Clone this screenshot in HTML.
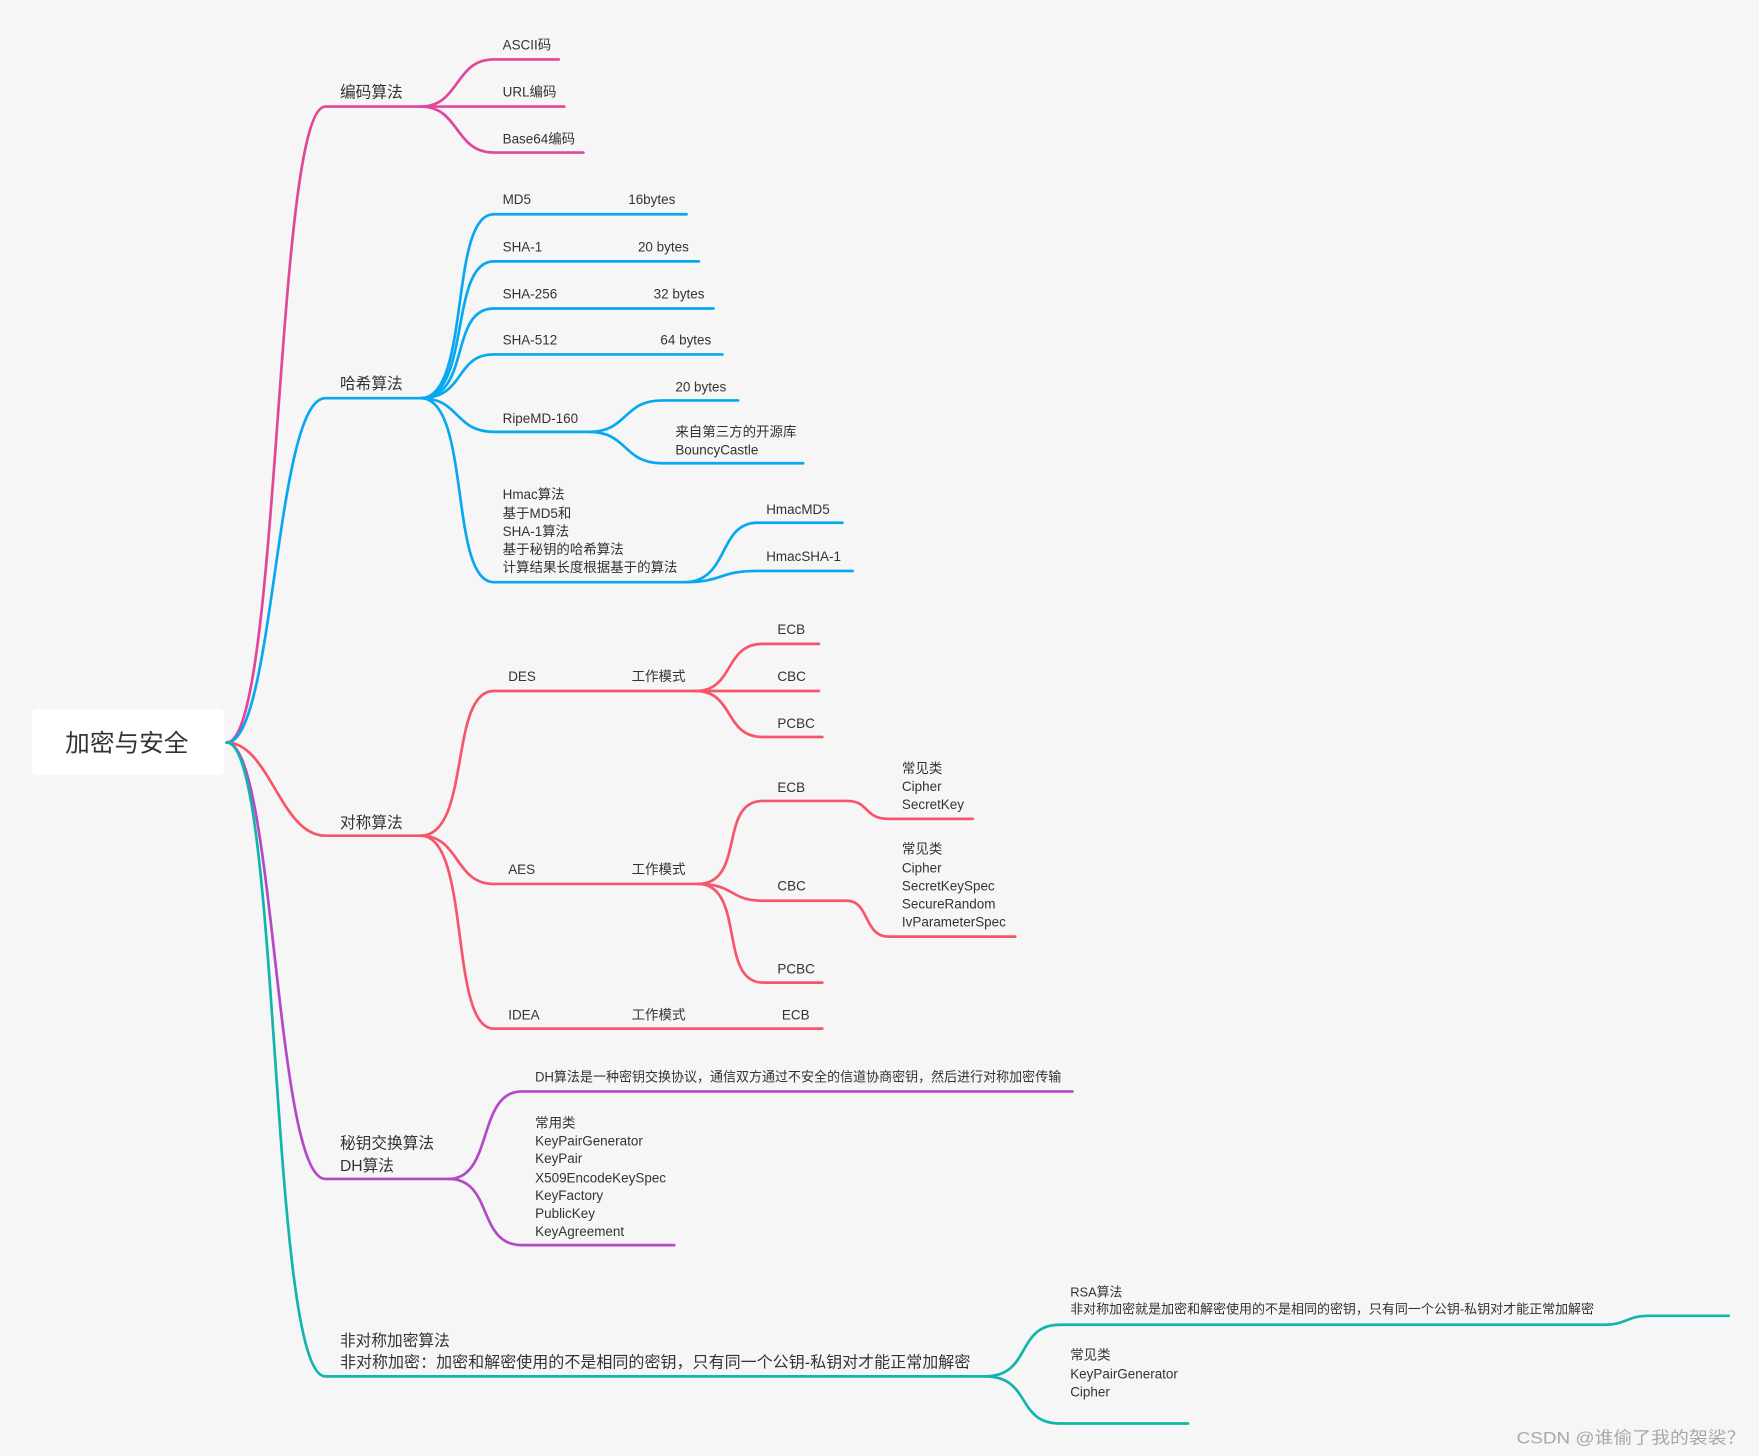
<!DOCTYPE html>
<html><head><meta charset="utf-8"><style>
html,body{margin:0;padding:0;background:#f6f6f6;}
svg{display:block}
text{font-family:"Liberation Sans","Noto Sans CJK SC",sans-serif;fill:#333;}
.l1{font-size:14px}
.l2{font-size:12px}
.s{font-size:11.5px}
path{fill:none;stroke-width:2.4;stroke-linecap:round}
.pk{stroke:#e0479b}.bl{stroke:#06a9f0}.rd{stroke:#f6556a}.pu{stroke:#b548c9}.tl{stroke:#12b5a9}
</style></head><body>
<svg width="1759" height="1456" viewBox="0 0 1568 1298" xmlns="http://www.w3.org/2000/svg">
<rect x="0" y="0" width="1568" height="1298" fill="#f6f6f6"/>
<rect x="28" y="632" width="172" height="59" rx="5" fill="#fff"/>
<text x="113" y="670" font-size="22" text-anchor="middle">加密与安全</text>

<path class="pk" d="M202,662 C250,662 245,95 290,95 L375,95"/>
<path class="bl" d="M202,662 C245,662 245,355 290,355 L375,355"/>
<path class="rd" d="M202,662 C240,662 250,745 290,745 L375,745"/>
<path class="pu" d="M202,662 C245,662 245,1051 290,1051 L400,1051"/>
<path class="tl" d="M202,662 C250,662 240,1227 290,1227 L878,1227"/>
<text class="l1" x="303" y="87">编码算法</text>
<text class="l1" x="303" y="347">哈希算法</text>
<text class="l1" x="303" y="738">对称算法</text>
<text class="l1" x="303" y="1024">秘钥交换算法</text>
<text class="l1" x="303" y="1044">DH算法</text>
<text class="l1" x="303" y="1200">非对称加密算法</text>
<text class="l1" x="303" y="1219" textLength="562" lengthAdjust="spacingAndGlyphs">非对称加密：加密和解密使用的不是相同的密钥，只有同一个公钥-私钥对才能正常加解密</text>

<path class="pk" d="M375,95 C410,95 405,53 440,53 L498,53"/>
<path class="pk" d="M375,95 L503,95"/>
<path class="pk" d="M375,95 C410,95 405,136 440,136 L520,136"/>
<text class="l2" x="448" y="44">ASCII码</text>
<text class="l2" x="448" y="86">URL编码</text>
<text class="l2" x="448" y="128">Base64编码</text>

<path class="bl" d="M375,355 C420,355 400,191 440,191 L612,191"/>
<path class="bl" d="M375,355 C420,355 400,233 440,233 L623,233"/>
<path class="bl" d="M375,355 C420,355 400,275 440,275 L636,275"/>
<path class="bl" d="M375,355 C415,355 405,316 440,316 L644,316"/>
<path class="bl" d="M375,355 C410,355 405,385 440,385 L525,385"/>
<path class="bl" d="M375,355 C420,355 400,519 440,519 L610,519"/>
<text class="l2" x="448" y="182">MD5</text><text class="l2" x="602" y="182" text-anchor="end">16bytes</text>
<text class="l2" x="448" y="224">SHA-1</text><text class="l2" x="614" y="224" text-anchor="end">20 bytes</text>
<text class="l2" x="448" y="266">SHA-256</text><text class="l2" x="628" y="266" text-anchor="end">32 bytes</text>
<text class="l2" x="448" y="307">SHA-512</text><text class="l2" x="634" y="307" text-anchor="end">64 bytes</text>
<text class="l2" x="448" y="377">RipeMD-160</text>
<path class="bl" d="M525,385 C560,385 555,357 590,357 L658,357"/>
<path class="bl" d="M525,385 C560,385 555,413 590,413 L716,413"/>
<text class="l2" x="602" y="349">20 bytes</text>
<text class="l2" x="602" y="389">来自第三方的开源库</text>
<text class="l2" x="602" y="405">BouncyCastle</text>
<text class="l2" x="448" y="445">Hmac算法</text>
<text class="l2" x="448" y="462">基于MD5和</text>
<text class="l2" x="448" y="478">SHA-1算法</text>
<text class="l2" x="448" y="494">基于秘钥的哈希算法</text>
<text class="l2" x="448" y="510">计算结果长度根据基于的算法</text>
<path class="bl" d="M610,519 C650,519 640,466 675,466 L751,466"/>
<path class="bl" d="M610,519 C645,519 640,509 675,509 L760,509"/>
<text class="l2" x="683" y="458">HmacMD5</text>
<text class="l2" x="683" y="500">HmacSHA-1</text>

<path class="rd" d="M375,745 C420,745 400,616 440,616 L620,616"/>
<path class="rd" d="M375,745 C410,745 405,788 440,788 L622,788"/>
<path class="rd" d="M375,745 C420,745 400,917 440,917 L733,917"/>
<text class="l2" x="453" y="607">DES</text><text class="l2" x="563" y="607">工作模式</text>
<text class="l2" x="453" y="779">AES</text><text class="l2" x="563" y="779">工作模式</text>
<text class="l2" x="453" y="909">IDEA</text><text class="l2" x="563" y="909">工作模式</text><text class="l2" x="697" y="909">ECB</text>
<path class="rd" d="M620,616 C655,616 645,574 680,574 L730,574"/>
<path class="rd" d="M620,616 L730,616"/>
<path class="rd" d="M620,616 C655,616 645,657 680,657 L733,657"/>
<text class="l2" x="693" y="565">ECB</text>
<text class="l2" x="693" y="607">CBC</text>
<text class="l2" x="693" y="649">PCBC</text>
<path class="rd" d="M622,788 C665,788 640,714 680,714 L755,714"/>
<path class="rd" d="M622,788 C655,788 650,803 680,803 L755,803"/>
<path class="rd" d="M622,788 C665,788 640,876 680,876 L733,876"/>
<text class="l2" x="693" y="706">ECB</text>
<text class="l2" x="693" y="794">CBC</text>
<text class="l2" x="693" y="868">PCBC</text>
<path class="rd" d="M755,714 C775,714 770,730 792,730 L867,730"/>
<path class="rd" d="M755,803 C775,803 770,835 792,835 L905,835"/>
<text class="l2" x="804" y="689">常见类</text>
<text class="l2" x="804" y="705">Cipher</text>
<text class="l2" x="804" y="721">SecretKey</text>
<text class="l2" x="804" y="761">常见类</text>
<text class="l2" x="804" y="778">Cipher</text>
<text class="l2" x="804" y="794">SecretKeySpec</text>
<text class="l2" x="804" y="810">SecureRandom</text>
<text class="l2" x="804" y="826">IvParameterSpec</text>

<path class="pu" d="M400,1051 C440,1051 425,973 465,973 L956,973"/>
<path class="pu" d="M400,1051 C440,1051 425,1110 465,1110 L601,1110"/>
<text class="l2" x="477" y="964" textLength="469" lengthAdjust="spacingAndGlyphs">DH算法是一种密钥交换协议，通信双方通过不安全的信道协商密钥，然后进行对称加密传输</text>
<text class="l2" x="477" y="1005">常用类</text>
<text class="l2" x="477" y="1021">KeyPairGenerator</text>
<text class="l2" x="477" y="1037">KeyPair</text>
<text class="l2" x="477" y="1054">X509EncodeKeySpec</text>
<text class="l2" x="477" y="1070">KeyFactory</text>
<text class="l2" x="477" y="1086">PublicKey</text>
<text class="l2" x="477" y="1102">KeyAgreement</text>

<path class="tl" d="M878,1227 C920,1227 905,1181 945,1181 L1430,1181 C1450,1181 1450,1173 1470,1173 L1541,1173"/>
<path class="tl" d="M878,1227 C920,1227 905,1269 945,1269 L1059,1269"/>
<text class="s" x="954" y="1156">RSA算法</text>
<text class="s" x="954" y="1171" textLength="467" lengthAdjust="spacingAndGlyphs">非对称加密就是加密和解密使用的不是相同的密钥，只有同一个公钥-私钥对才能正常加解密</text>
<text class="l2" x="954" y="1212">常见类</text>
<text class="l2" x="954" y="1229">KeyPairGenerator</text>
<text class="l2" x="954" y="1245">Cipher</text>

<text x="1352" y="1287" font-size="15" textLength="204" lengthAdjust="spacingAndGlyphs" style="fill:#a8a8a8">CSDN @谁偷了我的袈裟？</text>
</svg>
</body></html>
